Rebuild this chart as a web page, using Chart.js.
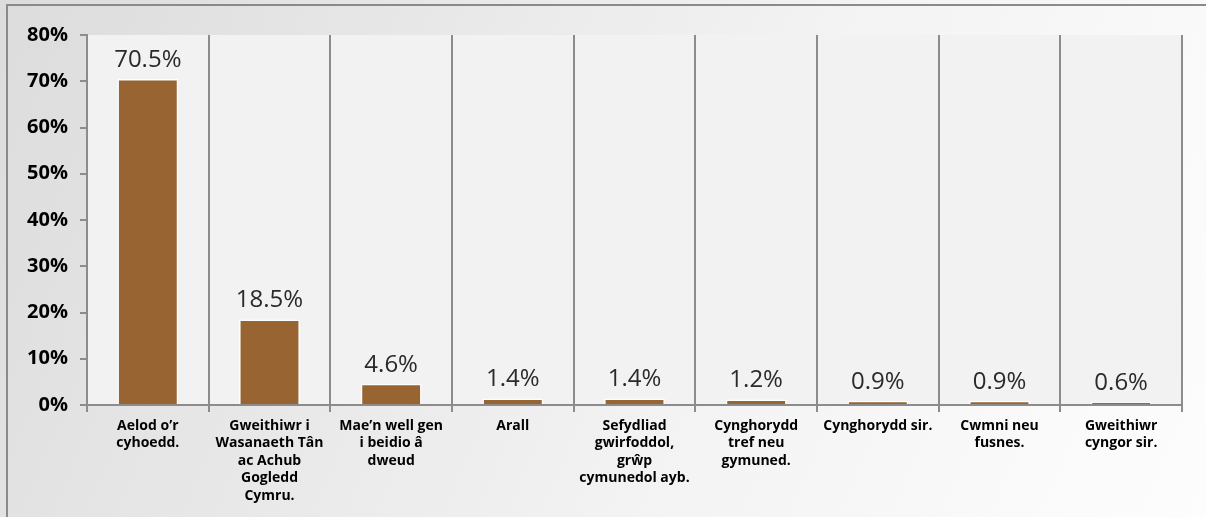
<!DOCTYPE html>
<html>
<head>
<meta charset="utf-8">
<script src="https://cdn.jsdelivr.net/npm/chart.js@4.4.1/dist/chart.umd.min.js"></script>
<style>
  html, body { margin: 0; padding: 0; background: #fff; }
  #wrap { width: 1206px; height: 517px; position: relative; }
</style>
</head>
<body>
<div id="wrap"><canvas id="chartRespondents"></canvas></div>
<script>
const categories = [
  ["Aelod o’r", "cyhoedd."],
  ["Gweithiwr i", "Wasanaeth Tân", "ac Achub", "Gogledd", "Cymru."],
  ["Mae’n well gen", "i beidio â", "dweud"],
  ["Arall"],
  ["Sefydliad", "gwirfoddol,", "grŵp", "cymunedol ayb."],
  ["Cynghorydd", "tref neu", "gymuned."],
  ["Cynghorydd sir."],
  ["Cwmni neu", "fusnes."],
  ["Gweithiwr", "cyngor sir."]
];
const percentValues = [70.5, 18.5, 4.6, 1.4, 1.4, 1.2, 0.9, 0.9, 0.6];
const yTicks = [0, 10, 20, 30, 40, 50, 60, 70, 80];

const FONT = "'Open Sans', 'Noto Sans', sans-serif";

// background: outer gradient + frame + plot area fill
const backgroundPlugin = {
  id: "backgroundPlugin",
  beforeDraw(chart) {
    const ctx = chart.ctx;
    const area = chart.chartArea;
    ctx.save();
    const g = ctx.createLinearGradient(0, 0, chart.width, chart.height);
    g.addColorStop(0, "#dcdcdc");
    g.addColorStop(0.6, "#f3f3f3");
    g.addColorStop(1, "#fdfdfd");
    ctx.fillStyle = g;
    ctx.fillRect(0, 0, chart.width, chart.height);
    ctx.strokeStyle = "#8a8a8a";
    ctx.lineWidth = 2;
    ctx.strokeRect(7, 5, chart.width + 50, chart.height + 50);
    ctx.fillStyle = "#f2f2f2";
    ctx.fillRect(area.left, area.top, area.right - area.left, area.bottom - area.top);
    ctx.restore();
  }
};

// value labels above bars
const valueLabels = {
  id: "valueLabels",
  afterDatasetsDraw(chart) {
    const ctx = chart.ctx;
    const meta = chart.getDatasetMeta(0);
    ctx.save();
    ctx.font = "24px " + FONT;
    ctx.fillStyle = "#2a2a2a";
    ctx.textAlign = "center";
    ctx.textBaseline = "bottom";
    meta.data.forEach((bar, i) => {
      ctx.fillText(percentValues[i].toFixed(1) + "%", bar.x, bar.y - 7);
    });
    ctx.restore();
  }
};

const chart = new Chart("chartRespondents", {
  type: "bar",
  data: {
    labels: categories,
    datasets: [
      {
        data: percentValues,
        backgroundColor: "#986532",
        borderColor: "#ffffff",
        borderWidth: 1.5,
        categoryPercentage: 1,
        barPercentage: 0.5,
      },
    ],
  },
  options: {
    responsive: true,
    maintainAspectRatio: false,
    animation: false,
    layout: { padding: { left: 0, right: 24, top: 35, bottom: 0 } },
    plugins: {
      legend: { display: false },
      tooltip: { enabled: false },
    },
    scales: {
      x: {
        offset: true,
        grid: {
          offset: true,
          color: "#8c8c8c",
          lineWidth: 2,
          drawTicks: true,
          tickLength: 7,
        },
        border: { color: "#8c8c8c", width: 2 },
        ticks: {
          autoSkip: false,
          maxRotation: 0,
          minRotation: 0,
          padding: 5,
          color: "#000",
          font: { family: FONT, size: 14, weight: "bold", lineHeight: 1.25 },
        },
        afterFit(scale) {
          scale.height = 112;
        },
      },
      y: {
        min: 0,
        max: 80,
        afterBuildTicks(scale) {
          scale.ticks = yTicks.map((v) => ({ value: v }));
        },
        grid: {
          drawOnChartArea: false,
          drawTicks: true,
          tickLength: 7,
          color: "#8c8c8c",
          lineWidth: 2,
        },
        border: { color: "#8c8c8c", width: 2 },
        ticks: {
          padding: 12,
          color: "#000",
          font: { family: FONT, size: 20, weight: "bold" },
          callback: (v) => v + "%",
        },
        afterFit(scale) {
          scale.width = 87;
        },
      },
    },
  },
  plugins: [backgroundPlugin, valueLabels],
});
</script>
</body>
</html>
